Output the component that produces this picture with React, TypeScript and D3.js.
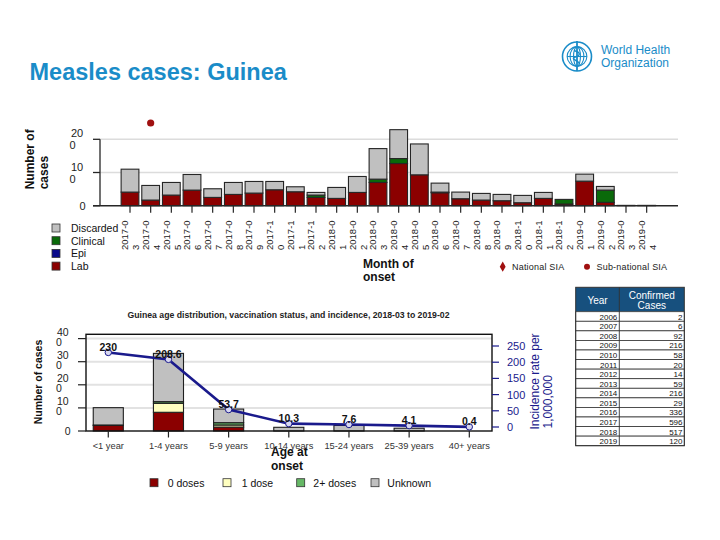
import React from "react";
import * as d3 from "d3";

const months = [
  "2017-03","2017-04","2017-05","2017-06","2017-07","2017-08","2017-09","2017-10","2017-11","2017-12",
  "2018-01","2018-02","2018-03","2018-04","2018-05","2018-06","2018-07","2018-08","2018-09","2018-10","2018-11","2018-12",
  "2019-01","2019-02","2019-03","2019-04",
];
const labCases = [41,17,32,47,25,34,38,48,42,25,22,40,70,127,93,39,21,17,15,9,22,5,74,10,1,1];
const epiCases = [0,0,0,0,0,0,0,0,0,0,0,0,0,0,0,0,0,0,0,0,0,0,0,0,0,0];
const clinicalCases = [0,0,0,0,0,0,0,0,0,7,0,0,10,15,0,2,0,0,0,0,0,14,0,37,0,0];
const discardedCases = [69,44,38,47,26,36,35,25,15,8,33,48,92,87,93,27,20,20,19,22,18,0,21,11,0,0];
const subNationalSIA = ["2017-04"];
const topTicks = [0, 100, 200];

const ageGroups = ["<1 year","1-4 years","5-9 years","10-14 years","15-24 years","25-39 years","40+ years"];
const zeroDoses = [24, 81, 17, 0, 0, 0, 0];
const oneDose = [0, 39, 9, 0, 0, 0, 0];
const twoPlusDoses = [2, 7, 10, 0, 0, 0, 0];
const unknownDoses = [75, 209, 59, 16, 24, 12, 0];
const incidence = [230, 208.6, 53.7, 10.3, 7.6, 4.1, 0.4];
const ageLeftTicks = [0, 100, 200, 300, 400];
const ageRightTicks = [0, 50, 100, 150, 200, 250];

const tableYears = ["2006","2007","2008","2009","2010","2011","2012","2013","2014","2015","2016","2017","2018","2019"];
const tableCases = [2, 6, 92, 216, 58, 20, 14, 59, 216, 29, 336, 596, 517, 120];

const FONT = "Liberation Sans, Arial, sans-serif";
const NARROW = "Liberation Sans Narrow, Arial Narrow, Liberation Sans, Arial, sans-serif";

const topColors = { Discarded: "#c0c0c0", Clinical: "#0a6a0a", Epi: "#0a0a8a", Lab: "#8b0000" };
const ageColors = { zero: "#8b0000", one: "#ffffc0", two: "#66b866", unknown: "#c0c0c0" };
const navy = "#1a1a8c";
const whoBlue = "#1a8cc8";

function splitLabel(s: string): [string, string] {
  if (s.length <= 2) return [s, ""];
  if (s.length === 3) return [s.slice(0, 2), s.slice(2)];
  return [s.slice(0, s.length - 1), s.slice(s.length - 1)];
}

function TopChart() {
  const x = d3.scaleBand<string>().domain(months).range([119.67, 657]).paddingInner(0.14).paddingOuter(0.07);
  const y = d3.scaleLinear().domain([0, 200]).range([205.7, 139.3]);
  const bw = x.bandwidth();
  const series = [
    { key: "Lab", vals: labCases, color: topColors.Lab },
    { key: "Epi", vals: epiCases, color: topColors.Epi },
    { key: "Clinical", vals: clinicalCases, color: topColors.Clinical },
    { key: "Discarded", vals: discardedCases, color: topColors.Discarded },
  ];
  const bars: JSX.Element[] = [];
  months.forEach((m, i) => {
    let acc = 0;
    series.forEach((s) => {
      const v = s.vals[i];
      if (v <= 0) return;
      const y0 = y(acc);
      const y1 = y(acc + v);
      acc += v;
      bars.push(
        <rect key={m + s.key} x={x(m)!} y={y1} width={bw} height={y0 - y1} fill={s.color} stroke="#262626" strokeWidth={1.1} />
      );
    });
  });
  const x0 = 100;
  const xEnd = 678;
  const legendItems = ["Discarded", "Clinical", "Epi", "Lab"] as const;
  return (
    <g fontFamily={FONT}>
      {topTicks.filter((t) => t > 0).map((t) => (
        <line key={"g" + t} x1={x0} x2={xEnd} y1={y(t)} y2={y(t)} stroke="#dcdcdc" strokeWidth={1.4} />
      ))}
      {bars}
      <line x1={x0} x2={x0} y1={y(200)} y2={y(0)} stroke="#262626" strokeWidth={1.3} />
      <line x1={93} x2={xEnd} y1={y(0)} y2={y(0)} stroke="#262626" strokeWidth={1.4} />
      {topTicks.map((t) => {
        const lbl = String(t);
        const [a, b] = splitLabel(lbl);
        return (
          <g key={"t" + t}>
            <line x1={93} x2={x0} y1={y(t)} y2={y(t)} stroke="#262626" strokeWidth={1.3} />
            {b ? (
              <>
                <text x={71} y={y(t) - 2} fontSize={11} fill="#222">{a}</text>
                <text x={69.5} y={y(t) + 10} fontSize={11} fill="#222">{b}</text>
              </>
            ) : (
              <text x={85.5} y={y(t) + 4} fontSize={11} fill="#222" textAnchor="end">{a}</text>
            )}
          </g>
        );
      })}
      {months.map((m) => {
        const cx = x(m)! + bw / 2;
        const [a, b] = splitLabel(m);
        return (
          <g key={"x" + m}>
            <line x1={cx} x2={cx} y1={y(0)} y2={y(0) + 7} stroke="#262626" strokeWidth={1.2} />
            <text transform={`translate(${cx - 1.7},250) rotate(-90)`} fontSize={9.5} fontFamily={NARROW} fill="#222">{a}</text>
            <text transform={`translate(${cx + 9.3},250) rotate(-90)`} fontSize={9.5} fontFamily={NARROW} fill="#222">{b}</text>
          </g>
        );
      })}
      {subNationalSIA.map((m) => (
        <circle key={"sia" + m} cx={x(m)! + bw / 2} cy={123} r={3.6} fill="#a01010" />
      ))}
      <text transform="translate(34,189.3) rotate(-90)" fontSize={12} fontWeight="bold" fill="#111">Number of</text>
      <text transform="translate(47.5,189.3) rotate(-90)" fontSize={12} fontWeight="bold" fill="#111">cases</text>
      {legendItems.map((k, i) => (
        <g key={"lg" + k}>
          <rect x={52} y={224 + i * 12.7} width={8} height={8} fill={topColors[k]} stroke="#333" strokeWidth={0.8} />
          <text x={71} y={232 + i * 12.7} fontSize={10.5} fill="#111">{k}</text>
        </g>
      ))}
      <text x={363} y={268} fontSize={12} fontWeight="bold" fill="#111">Month of</text>
      <text x={363} y={281} fontSize={12} fontWeight="bold" fill="#111">onset</text>
      <path d={d3.symbol(d3.symbolDiamond, 30)()!} transform="translate(502.7,266.7)" fill="#a01010" />
      <text x={512} y={270} fontSize={9} fill="#222" letterSpacing={0.2}>National SIA</text>
      <circle cx={587} cy={266.7} r={3} fill="#a01010" />
      <text x={596.5} y={270} fontSize={9} fill="#222" letterSpacing={0.2}>Sub-national SIA</text>
    </g>
  );
}

function AgeChart() {
  const x = d3.scaleBand<string>().domain(ageGroups).range([78.2, 499.4]).paddingInner(0.5).paddingOuter(0.25);
  const yL = d3.scaleLinear().domain([0, 400]).range([431, 338.6]);
  const yR = d3.scaleLinear().domain([0, 250]).range([427, 346]);
  const bw = x.bandwidth();
  const left = 86, right = 492, top = 334.3, bottom = 431;
  const series = [
    { key: "zero", vals: zeroDoses, color: ageColors.zero },
    { key: "one", vals: oneDose, color: ageColors.one },
    { key: "two", vals: twoPlusDoses, color: ageColors.two },
    { key: "unknown", vals: unknownDoses, color: ageColors.unknown },
  ];
  const bars: JSX.Element[] = [];
  ageGroups.forEach((g, i) => {
    let acc = 0;
    series.forEach((s) => {
      const v = s.vals[i];
      if (v <= 0) return;
      const y0 = yL(acc);
      const y1 = yL(acc + v);
      acc += v;
      bars.push(<rect key={g + s.key} x={x(g)!} y={y1} width={bw} height={y0 - y1} fill={s.color} stroke="#1e1e1e" strokeWidth={1.1} />);
    });
  });
  const line = d3.line<number>().x((_, i) => x(ageGroups[i])! + bw / 2).y((d) => yR(d));
  const legend = [
    { label: "0 doses", color: ageColors.zero, sx: 150, tx: 167.7 },
    { label: "1 dose", color: ageColors.one, sx: 223, tx: 241.7 },
    { label: "2+ doses", color: ageColors.two, sx: 296.7, tx: 313.3 },
    { label: "Unknown", color: ageColors.unknown, sx: 371, tx: 387.3 },
  ];
  return (
    <g fontFamily={FONT}>
      <text x={288.5} y={318.3} fontSize={8.7} fontWeight="bold" textAnchor="middle" fill="#222">
        Guinea age distribution, vaccination status, and incidence, 2018-03 to 2019-02
      </text>
      {ageLeftTicks.filter((t) => t > 0).map((t) => (
        <line key={"g" + t} x1={left} x2={right} y1={yL(t)} y2={yL(t)} stroke="#e2e2e2" strokeWidth={2} />
      ))}
      {bars}
      <rect x={left} y={top} width={right - left} height={bottom - top} fill="none" stroke="#111" strokeWidth={1.4} />
      {ageLeftTicks.map((t) => {
        const [a, b] = splitLabel(String(t));
        return (
          <g key={"lt" + t}>
            <line x1={78} x2={left} y1={yL(t)} y2={yL(t)} stroke="#222" strokeWidth={1.2} />
            {b ? (
              <>
                <text x={57} y={yL(t) - 2.5} fontSize={10.5} fill="#222">{a}</text>
                <text x={56} y={yL(t) + 7.5} fontSize={10.5} fill="#222">{b}</text>
              </>
            ) : (
              <text x={70.5} y={yL(t) + 4} fontSize={10.5} fill="#222" textAnchor="end">{a}</text>
            )}
          </g>
        );
      })}
      {ageRightTicks.map((t) => (
        <g key={"rt" + t}>
          <line x1={right} x2={right + 7} y1={yR(t)} y2={yR(t)} stroke={navy} strokeWidth={1.2} />
          <text x={507} y={yR(t) + 4} fontSize={11} fill={navy}>{t}</text>
        </g>
      ))}
      {ageGroups.map((g) => {
        const cx = x(g)! + bw / 2;
        return (
          <g key={"xa" + g}>
            <line x1={cx} x2={cx} y1={bottom} y2={bottom + 6.5} stroke="#222" strokeWidth={1.2} />
            <text x={cx} y={449} fontSize={9.3} textAnchor="middle" fill="#333">{g}</text>
          </g>
        );
      })}
      <path d={line(incidence)!} fill="none" stroke={navy} strokeWidth={2.6} />
      {incidence.map((v, i) => {
        const cx = x(ageGroups[i])! + bw / 2;
        return (
          <g key={"inc" + i}>
            <circle cx={cx} cy={yR(v)} r={3.2} fill="#d8d8f0" stroke={navy} strokeWidth={1} />
            <text x={cx} y={yR(v) - 1.5} fontSize={10.5} fontWeight="bold" textAnchor="middle" fill="#111">{String(v)}</text>
          </g>
        );
      })}
      <text transform="translate(41.5,382) rotate(-90)" fontSize={10.5} fontWeight="bold" textAnchor="middle" fill="#111">Number of cases</text>
      <text transform="translate(539,429.5) rotate(-90)" fontSize={12} fill={navy}>Incidence rate per</text>
      <text transform="translate(552,428.5) rotate(-90)" fontSize={12} fill={navy}>1,000,000</text>
      <text x={271} y={456} fontSize={12} fontWeight="bold" fill="#111">Age at</text>
      <text x={271} y={469.5} fontSize={12} fontWeight="bold" fill="#111">onset</text>
      {legend.map((l) => (
        <g key={"al" + l.label}>
          <rect x={l.sx} y={478.7} width={8} height={8} fill={l.color} stroke="#333" strokeWidth={0.8} />
          <text x={l.tx} y={486.5} fontSize={10.5} fill="#111">{l.label}</text>
        </g>
      ))}
    </g>
  );
}

function CasesTable() {
  const left = 575.7, right = 684.3, mid = 619.3, top = 287.3, headBottom = 311.7;
  const rowY = d3.scaleBand<string>().domain(tableYears).range([headBottom, 445.7]);
  const rh = rowY.bandwidth();
  return (
    <g fontFamily={FONT}>
      <rect x={left} y={top} width={right - left} height={headBottom - top} fill="#17507e" />
      <text x={(left + mid) / 2} y={303.5} fontSize={10} fill="#fff" textAnchor="middle">Year</text>
      <text x={(mid + right) / 2} y={298.5} fontSize={10} fill="#fff" textAnchor="middle">Confirmed</text>
      <text x={(mid + right) / 2} y={309.3} fontSize={10} fill="#fff" textAnchor="middle">Cases</text>
      {tableYears.map((yr, i) => {
        const y0 = rowY(yr)!;
        return (
          <g key={"row" + yr}>
            <rect x={left} y={y0} width={right - left} height={rh} fill="#fff" stroke="#333" strokeWidth={0.8} />
            <text x={617.3} y={y0 + rh - 1.6} fontSize={8} fill="#111" textAnchor="end">{yr}</text>
            <text x={682.5} y={y0 + rh - 1.6} fontSize={8} fill="#111" textAnchor="end">{tableCases[i]}</text>
          </g>
        );
      })}
      <line x1={mid} x2={mid} y1={top} y2={445.7} stroke="#333" strokeWidth={0.9} />
      <rect x={left} y={top} width={right - left} height={445.7 - top} fill="none" stroke="#333" strokeWidth={1} />
    </g>
  );
}

function WhoLogo() {
  const cx = 577, cy = 56.5, r = 14.5;
  const meridians = [0.35, 0.7];
  return (
    <g fontFamily={FONT}>
      <g stroke={whoBlue} fill="none" strokeWidth={1.1}>
        <circle cx={cx} cy={cy} r={r} strokeWidth={1.6} />
        <circle cx={cx} cy={cy} r={r * 0.68} />
        {meridians.map((m) => (
          <ellipse key={m} cx={cx} cy={cy} rx={r * 0.68 * m} ry={r * 0.68} />
        ))}
        <line x1={cx - r * 0.68} x2={cx + r * 0.68} y1={cy} y2={cy} />
        <line x1={cx} x2={cx} y1={cy - r - 1} y2={cy + r} strokeWidth={1.8} />
        <path d={`M${cx - 3},${cy - 6} C${cx + 4},${cy - 4} ${cx + 4},${cy - 1} ${cx - 3},${cy + 1} C${cx - 6},${cy + 3} ${cx + 4},${cy + 5} ${cx + 2},${cy + 8}`} strokeWidth={1.4} />
      </g>
      <text x={601} y={54} fontSize={12} fill={whoBlue} fontFamily={NARROW}>World Health</text>
      <text x={601} y={66.5} fontSize={12} fill={whoBlue} fontFamily={NARROW}>Organization</text>
    </g>
  );
}

export default function App() {
  return (
    <svg width={720} height={540} viewBox="0 0 720 540" style={{ position: "absolute", left: 0, top: 0, background: "#fff" }}>
      <rect x={0} y={0} width={720} height={540} fill="#fff" />
      <text x={29.5} y={80} fontSize={23.5} fontWeight="bold" fill={whoBlue} fontFamily={FONT}>Measles cases: Guinea</text>
      <WhoLogo />
      <TopChart />
      <AgeChart />
      <CasesTable />
    </svg>
  );
}
